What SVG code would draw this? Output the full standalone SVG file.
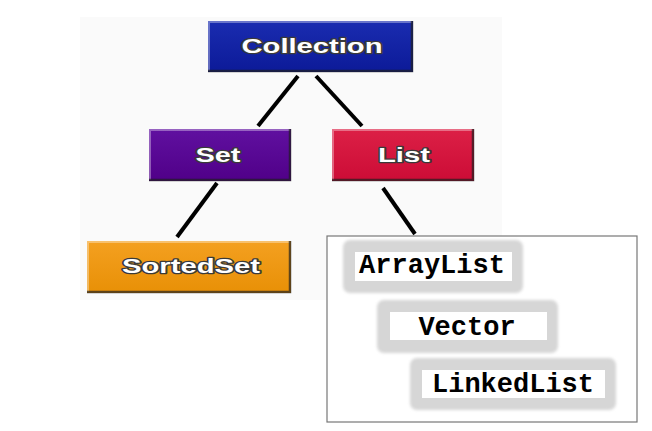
<svg xmlns="http://www.w3.org/2000/svg" width="652" height="431" viewBox="0 0 652 431">
<defs>
<filter id="soft" x="-10%" y="-20%" width="120%" height="140%"><feGaussianBlur stdDeviation="1.5"/></filter>
<linearGradient id="gBlue" x1="0" y1="0" x2="0" y2="1"><stop offset="0" stop-color="#1a2cb0"/><stop offset="1" stop-color="#0c1a98"/></linearGradient>
<linearGradient id="gPurple" x1="0" y1="0" x2="0" y2="1"><stop offset="0" stop-color="#6010a0"/><stop offset="1" stop-color="#500088"/></linearGradient>
<linearGradient id="gRed" x1="0" y1="0" x2="0" y2="1"><stop offset="0" stop-color="#dc2046"/><stop offset="1" stop-color="#cc0c36"/></linearGradient>
<linearGradient id="gOrange" x1="0" y1="0" x2="0" y2="1"><stop offset="0" stop-color="#f4a020"/><stop offset="1" stop-color="#e89006"/></linearGradient>
</defs>
<style>
.lbl{font-family:"Liberation Sans",Arial,sans-serif;font-weight:bold;font-size:20px;fill:#fff;stroke:#3a3a3a;stroke-width:2.6;paint-order:stroke;text-anchor:middle;stroke-linejoin:round}
.mono{font-family:"Liberation Mono","Courier New",monospace;font-weight:bold;font-size:27px;fill:#000;text-anchor:middle}
.edge{stroke:#000;stroke-width:4;fill:none}
.hi{stroke:#ffffff;stroke-opacity:0.35;stroke-width:2;fill:none}
.sh{stroke:#202020;stroke-opacity:0.7;stroke-width:2.5;fill:none}
.frame{fill:#d6d6d6;filter:url(#soft)}
.inner{fill:#fff}
</style>
<rect x="0" y="0" width="652" height="431" fill="#fff"/>
<rect x="80" y="17" width="422" height="283" fill="#fafafa"/>
<g id="connectors">
<line class="edge" x1="298" y1="76" x2="258" y2="126"/>
<line class="edge" x1="316" y1="76" x2="362" y2="126"/>
<line class="edge" x1="217" y1="183" x2="177" y2="237"/>
<line class="edge" x1="383" y1="188" x2="415" y2="234"/>
</g>
<g id="collection">
<rect x="208" y="21" width="205" height="51" fill="url(#gBlue)"/>
<polyline class="hi" points="209,71 209,22 412,22"/>
<polyline class="sh" points="208,71 412,71 412,21"/>
<text class="lbl" x="312" y="53" textLength="141" lengthAdjust="spacingAndGlyphs">Collection</text>
</g>
<g id="set">
<rect x="149" y="129" width="142" height="52" fill="url(#gPurple)"/>
<polyline class="hi" points="150,180 150,130 290,130"/>
<polyline class="sh" points="149,180 290,180 290,129"/>
<text class="lbl" x="218" y="162" textLength="45" lengthAdjust="spacingAndGlyphs">Set</text>
</g>
<g id="list">
<rect x="332" y="129" width="142" height="52" fill="url(#gRed)"/>
<polyline class="hi" points="333,180 333,130 473,130"/>
<polyline class="sh" points="332,180 473,180 473,129"/>
<text class="lbl" x="404" y="162" textLength="52" lengthAdjust="spacingAndGlyphs">List</text>
</g>
<g id="sortedset">
<rect x="87" y="241" width="204" height="52" fill="url(#gOrange)"/>
<polyline class="hi" points="88,292 88,242 290,242"/>
<polyline class="sh" points="87,292 290,292 290,241"/>
<text class="lbl" x="191" y="273" textLength="138" lengthAdjust="spacingAndGlyphs">SortedSet</text>
</g>
<g id="list-impls">
<rect x="327" y="236" width="310" height="186" fill="#fff" stroke="#777" stroke-width="1.2"/>
<g id="arraylist">
<rect class="frame" x="343" y="240" width="180" height="53" rx="7"/>
<rect class="inner" x="355" y="252" width="157" height="29"/>
<text class="mono" x="432" y="273">ArrayList</text>
</g>
<g id="vector">
<rect class="frame" x="377" y="300" width="181" height="53" rx="7"/>
<rect class="inner" x="390" y="312" width="157" height="28"/>
<text class="mono" x="467" y="335">Vector</text>
</g>
<g id="linkedlist">
<rect class="frame" x="410" y="358" width="206" height="52" rx="7"/>
<rect class="inner" x="422" y="370" width="183" height="28"/>
<text class="mono" x="513" y="392">LinkedList</text>
</g>
</g>
</svg>
